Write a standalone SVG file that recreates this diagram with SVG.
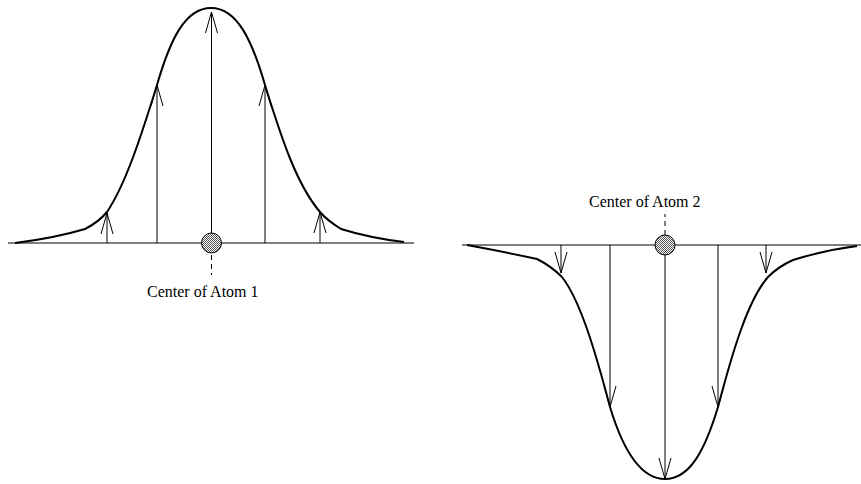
<svg xmlns="http://www.w3.org/2000/svg" width="861" height="484" viewBox="0 0 861 484">
<style>
.axis{stroke:#000;stroke-width:1.2;fill:none}
.curve{stroke:#000;stroke-width:2;fill:none;stroke-linejoin:round}
.arr{stroke:#000;stroke-width:1;fill:none;marker-end:url(#ah)}
.dash{stroke:#000;stroke-width:1;stroke-dasharray:5,4;fill:none}
.atom{fill:url(#hatch);stroke:#000;stroke-width:1}
.lbl{font-family:"Liberation Serif","Times New Roman",serif;font-size:16px;fill:#000}
</style>
<defs>
<pattern id="hatch" width="2" height="2" patternUnits="userSpaceOnUse">
<rect width="2" height="2" fill="#ffffff"/>
<rect width="1" height="1" fill="#555"/>
<rect x="1" y="1" width="1" height="1" fill="#555"/>
</pattern>
<marker id="ah" markerUnits="userSpaceOnUse" markerWidth="30" markerHeight="20" refX="0" refY="0" orient="auto" overflow="visible">
<path d="M-21,-6 L0,0 L-21,6" fill="none" stroke="#000" stroke-width="1"/>
</marker>
</defs>
<g id="atom1">
<line class="axis" x1="8" y1="243" x2="414" y2="243"/>
<path class="curve" d="M15,243 Q55,238 85,229 C95,224 102,218 107,212 C125,185 140,140 157,85 C170,40 185,8 211,8 C237,8 252,40 265,85 C282,140 297,185 320,212 C325,218 333,224 341,229 Q370,238 404,242"/>
<circle class="atom" cx="211.5" cy="243" r="10"/>
<line class="dash" x1="211.5" y1="255" x2="211.5" y2="275"/>
<text class="lbl" x="147" y="297">Center of Atom 1</text>
</g>
<g id="atom2">
<line class="axis" x1="462" y1="245" x2="861" y2="245"/>
<path class="curve" d="M467,245 Q500,251 537,259 C547,264 555,270 562,277 C580,300 595,350 610,407 C623,450 640,479 665,479 C690,479 705,450 718,407 C733,350 748,300 768,277 C775,270 784,264 793,260 Q825,250 857,246"/>
<circle class="atom" cx="665" cy="245" r="10"/>
<line class="dash" x1="665" y1="235" x2="665" y2="214"/>
<text class="lbl" x="589" y="207">Center of Atom 2</text>
</g>
<g id="connectors">
<line class="arr" x1="107" y1="243" x2="107" y2="213"/>
<line class="arr" x1="157" y1="243" x2="157" y2="85"/>
<line class="arr" x1="211.5" y1="233" x2="211.5" y2="12"/>
<line class="arr" x1="265" y1="243" x2="265" y2="85"/>
<line class="arr" x1="320" y1="243" x2="320" y2="212"/>
<line class="arr" x1="561" y1="245" x2="561" y2="273"/>
<line class="arr" x1="610" y1="245" x2="610" y2="407"/>
<line class="arr" x1="665" y1="255" x2="665" y2="479"/>
<line class="arr" x1="718" y1="245" x2="718" y2="407"/>
<line class="arr" x1="766" y1="245" x2="766" y2="273"/>
</g>
</svg>
